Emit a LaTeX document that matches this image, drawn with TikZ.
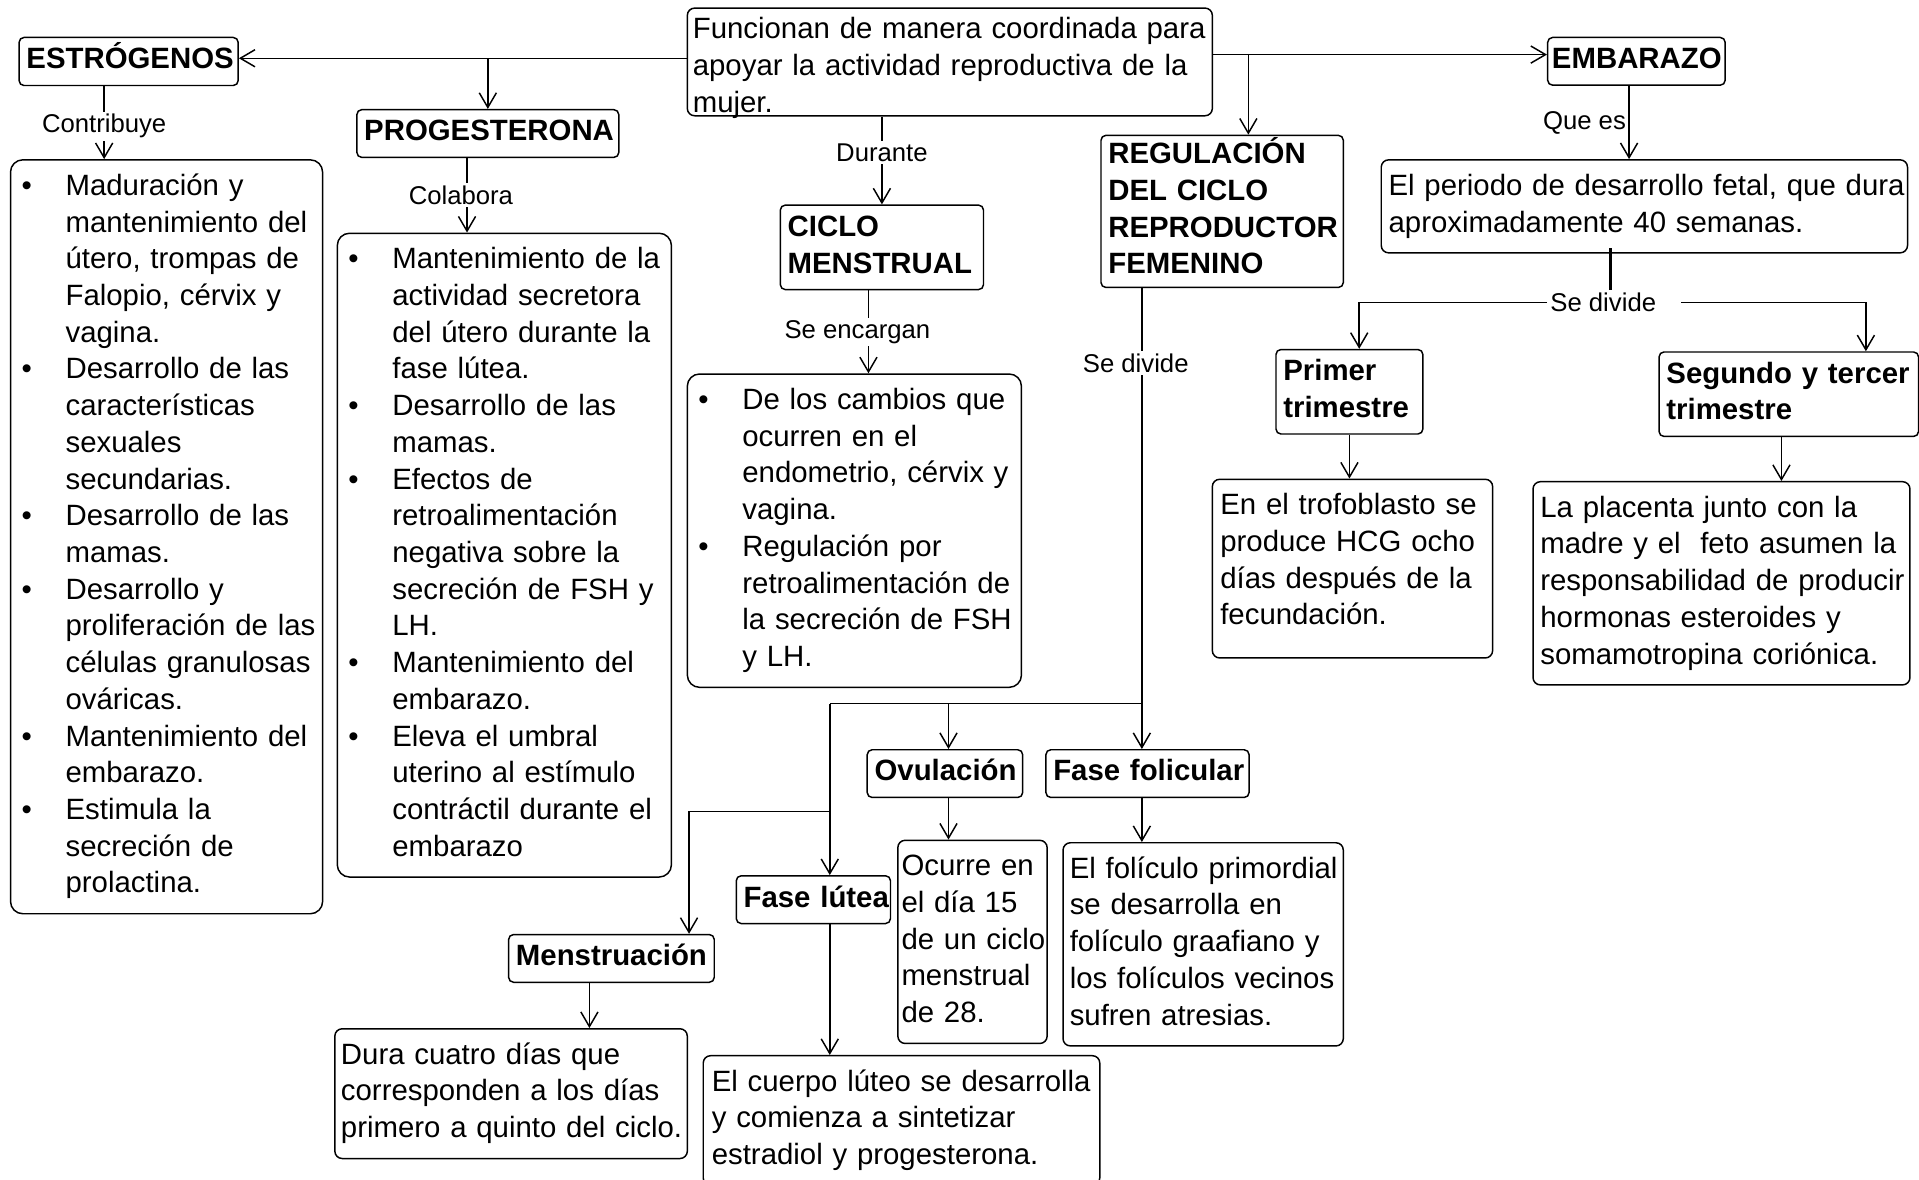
\documentclass[tikz,border=0pt]{standalone}
\usepackage{fontspec}
\setmainfont{Liberation Sans}
\usetikzlibrary{arrows.meta}

% lines kept as typed
\newcommand{\tl}[1]{\begin{tabular}[t]{@{}l@{}}#1\end{tabular}}
% one bullet item of a list box
\newcommand{\itm}[1]{{\lineskip=0pt\noindent\makebox[19pt][l]{\hspace{1pt}\textbullet}\tl{#1}\par}}

\begin{document}
\begin{tikzpicture}[x=0.5pt, y=-0.5pt, line width=0.6pt,
    >={Straight Barb[length=6pt,width=7pt]},
    box/.style={draw, rounded corners=3pt, anchor=north west,
      font=\fontsize{12}{15}\selectfont, inner xsep=3.5pt, inner ysep=4pt},
    lst/.style={box, rounded corners=5pt},
    hd/.style={box, rounded corners=2pt, font=\bfseries\fontsize{12}{15}\selectfont,
      inner xsep=3pt, inner ysep=2.25pt},
    lbl/.style={font=\fontsize{10.5}{12}\selectfont, fill=white, inner sep=1pt}]
  \useasboundingbox (0,0) rectangle (1568,964);

  % centre
  \node[box, text width=210pt, inner xsep=2.25pt, inner ysep=2pt, text depth=29.5pt] (top) at (561,6)
    {\tl{Funcionan de manera coordinada para\\ apoyar la actividad reproductiva de la\\ mujer.}};

  % hormonas
  \node[hd, text width=83.5pt] (estr) at (15,30) {\tl{ESTRÓGENOS}};
  \node[hd, text width=101pt] (prog) at (291,89) {\tl{PROGESTERONA}};
  \node[lst, text width=120.5pt] (elist) at (8,130) {%
    \itm{Maduración y\\ mantenimiento del\\ útero, trompas de\\ Falopio, cérvix y\\ vagina.}
    \itm{Desarrollo de las\\ características\\ sexuales\\ secundarias.}
    \itm{Desarrollo de las\\ mamas.}
    \itm{Desarrollo y\\ proliferación de las\\ células granulosas\\ ováricas.}
    \itm{Mantenimiento del\\ embarazo.}
    \itm{Estimula la\\ secreción de\\ prolactina.}};
  \node[lst, text width=129.5pt] (plist) at (275,190) {%
    \itm{Mantenimiento de la\\ actividad secretora\\ del útero durante la\\ fase lútea.}
    \itm{Desarrollo de las\\ mamas.}
    \itm{Efectos de\\ retroalimentación\\ negativa sobre la\\ secreción de FSH y\\ LH.}
    \itm{Mantenimiento del\\ embarazo.}
    \itm{Eleva el umbral\\ uterino al estímulo\\ contráctil durante el\\ embarazo}};

  % ciclo
  \node[hd, text width=77pt] (ciclo) at (637,167) {\tl{CICLO\\ MENSTRUAL}};
  \node[lst, text width=129.5pt] (clist) at (561,305) {%
    \itm{De los cambios que\\ ocurren en el\\ endometrio, cérvix y\\ vagina.}
    \itm{Regulación por\\ retroalimentación de\\ la secreción de FSH\\ y LH.}};
  \node[hd, text width=93pt, inner ysep=1pt] (reg) at (899,110)
    {\tl{REGULACIÓN\\ DEL CICLO\\ REPRODUCTOR\\ FEMENINO}};

  % fases
  \node[hd, text width=57.5pt] (ovul) at (708,612) {\tl{Ovulación}};
  \node[hd, text width=77pt] (fol) at (854,612) {\tl{Fase folicular}};
  \node[hd, text width=57pt] (lut) at (601,715) {\tl{Fase lútea}};
  \node[hd, text width=78pt] (men) at (415,763) {\tl{Menstruación}};
  \node[box, text width=58pt, inner xsep=1.5pt] (odesc) at (733,686)
    {\tl{Ocurre en\\ el día 15\\ de un ciclo\\ menstrual\\ de 28.}};
  \node[box, text width=109pt, inner xsep=2.75pt] (fdesc) at (868,688)
    {\tl{El folículo primordial\\ se desarrolla en\\ folículo graafiano y\\ los folículos vecinos\\ sufren atresias.}};
  \node[box, text width=155pt] (ldesc) at (574,862)
    {\tl{El cuerpo lúteo se desarrolla\\ y comienza a sintetizar\\ estradiol y progesterona.}};
  \node[box, text width=139pt, inner xsep=2.5pt] (mdesc) at (273,840)
    {\tl{Dura cuatro días que\\ corresponden a los días\\ primero a quinto del ciclo.}};

  % embarazo
  \node[hd, text width=69pt, inner xsep=1.75pt] (emb) at (1264,30) {\tl{EMBARAZO}};
  \node[box, text width=209pt, inner xsep=3pt] (edesc) at (1128,130)
    {\tl{El periodo de desarrollo fetal, que dura\\ aproximadamente 40 semanas.}};
  \node[hd, text width=54pt] (prim) at (1042,285) {\tl{Primer\\ trimestre}};
  \node[hd, text width=100pt] (seg) at (1355,287) {\tl{Segundo y tercer\\ trimestre}};
  \node[box, text width=108pt, inner xsep=3.25pt, text depth=54.5pt] (pdesc) at (990,391)
    {\tl{En el trofoblasto se\\ produce HCG ocho\\ días después de la\\ fecundación.}};
  \node[box, text width=148pt, inner xsep=3pt] (sdesc) at (1252,393)
    {\tl{La placenta junto con la\\ madre y el\ \ feto asumen la\\ responsabilidad de producir\\ hormonas esteroides y\\ somamotropina coriónica.}};

  \coordinate (tleft) at ([yshift=1.5pt]top.west);
  \coordinate (tright) at ([yshift=3pt]top.east);
  \coordinate (breg) at (1020,44);
  \coordinate (jreg) at (933,575);
  \coordinate (jov) at (775,575);
  \coordinate (jlut) at (678,575);
  \coordinate (jmen) at (678,663);
  \coordinate (jmen2) at (563,663);
  \coordinate (sdtop) at (1316,203);
  \node[lbl] (sdiv) at (1310,247) {Se divide};

  % conectores
  \draw[->] (tleft) -- (tleft -| estr.east);
  \draw[->] (tleft -| prog.north) -- (prog.north);
  \draw[->] (tright) -- (tright -| emb.west);
  \draw[->] (breg) -- (breg |- reg.north);
  \draw[->] (top.south -| ciclo.north) -- node[lbl, pos=0.41] (ldur) {Durante} (ciclo.north);
  \draw[->] ([xshift=-10pt]estr.south) -- node[lbl, pos=0.55] (lcon) {Contribuye} ([xshift=-10pt]estr.south |- elist.north);
  \draw[->] ([xshift=-8.5pt]prog.south) -- node[lbl, xshift=-2.5pt] (lcol) {Colabora} ([xshift=-8.5pt]prog.south |- plist.north);
  \draw[->] ([xshift=-5.5pt]ciclo.south) -- node[lbl, xshift=-4.5pt] (lenc) {Se encargan} ([xshift=-5.5pt]ciclo.south |- clist.north);
  \draw[->] (reg.south -| jreg) -- node[lbl, pos=0.18, xshift=-2.5pt] (ldiv) {Se divide} (jreg) -- (jreg |- fol.north);
  \draw (jreg) -- (jlut);
  \draw[->] (jov) -- (jov |- ovul.north);
  \draw[->] (jlut) -- (jlut |- lut.north);
  \draw[->] (jmen) -- (jmen2) -- (jmen2 |- men.north);
  \draw[->] (ovul.south -| jov) -- (odesc.north -| jov);
  \draw[->] (fol.south -| jreg) -- (fdesc.north -| jreg);
  \draw[->] (lut.south -| jlut) -- (ldesc.north -| jlut);
  \draw[->] ([xshift=-9pt]men.south) -- ([xshift=-9pt]men.south |- mdesc.north);
  \draw[->] ([xshift=-3pt]emb.south) -- node[lbl, left, fill=none] (lque) {Que es} ([xshift=-3pt]emb.south |- edesc.north);
  \draw[line width=1pt] (sdtop) -- (sdtop |- sdiv.north);
  \draw[->] (sdiv.west) -| ([xshift=4pt]prim.north);
  \draw[->] ([xshift=9pt]sdiv.east) -| ([xshift=31.5pt]seg.north);
  \draw[->] (prim.south) -- (prim.south |- pdesc.north);
  \draw[->] ([xshift=-3pt]seg.south) -- ([xshift=-3pt]seg.south |- sdesc.north);
\end{tikzpicture}
\end{document}
